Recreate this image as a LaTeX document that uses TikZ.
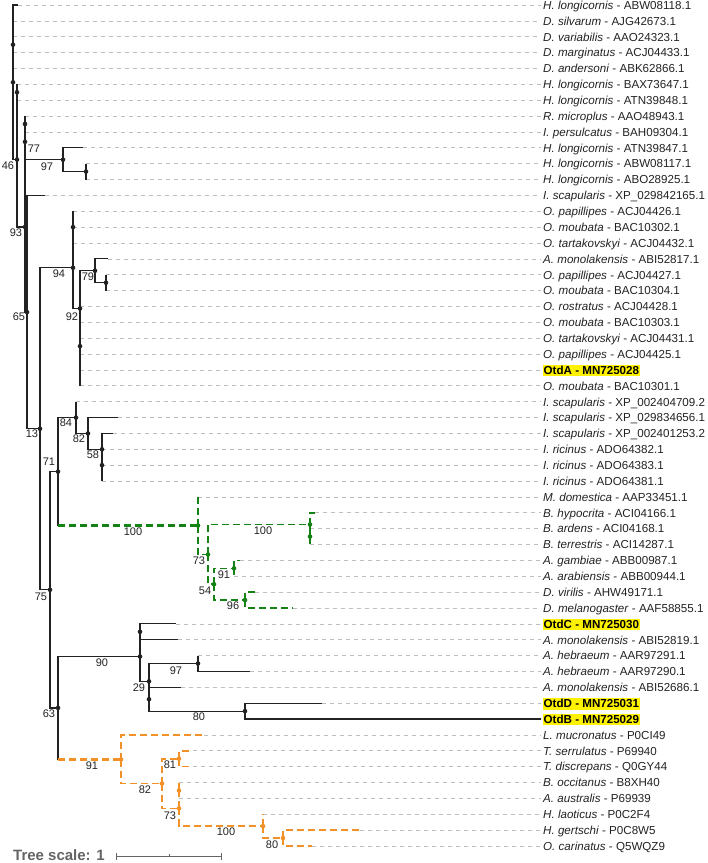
\documentclass[tikz,border=0pt]{standalone}
\usepackage{fontspec}
\setmainfont{Liberation Sans}
\definecolor{treeBlack}{RGB}{34,34,34}
\definecolor{treeGreen}{RGB}{20,130,20}
\definecolor{treeOrange}{RGB}{242,145,40}
\definecolor{guideGrey}{RGB}{190,190,190}
\definecolor{otdYellow}{RGB}{255,242,0}
\definecolor{scaleGrey}{RGB}{100,100,100}

\begin{document}
\begin{tikzpicture}
[x=1pt,y=-1pt,
  dotDecorate/.style={shape=circle,inner sep=0pt,minimum size=4.6pt,fill=#1},
  lineDecorate/.style={-,line width=1.2pt,treeBlack},
  greenDecorate/.style={-,line width=1.6pt,draw=treeGreen,dash pattern=on 7pt off 4pt},
  orangeDecorate/.style={-,line width=1.6pt,draw=treeOrange,dash pattern=on 7pt off 4pt},
  stemDecorate/.style={line width=2.2pt},
  guideDecorate/.style={-,line width=0.7pt,guideGrey,dash pattern=on 4pt off 4pt,shorten >=2pt},
  labelDecorate/.style={anchor=base west,inner sep=0pt,text=treeBlack,font=\fontsize{11.6}{13}\selectfont},
  otdDecorate/.style={anchor=base west,fill=otdYellow,inner xsep=0.5pt,inner ysep=1pt,text depth=1pt,font=\fontsize{11.6}{13}\selectfont\bfseries},
  bootDecorate/.style={inner sep=0pt,text=treeBlack,font=\fontsize{11}{12}\selectfont},
  scaleDecorate/.style={anchor=base west,inner sep=0pt,text=scaleGrey,font=\fontsize{15}{17}\selectfont\bfseries},
  barDecorate/.style={-,line width=0.9pt,scaleGrey}]
\useasboundingbox (0,0) rectangle (708,863);
%% internal nodes
\foreach \nodename/\x/\y in {
  root/13/82.3,  nA/13/44.7,  n46/17/159.6,  nB/17/92.25,
  n93/25/227,  n77/25/141.85,  nC/25/124,  n97/63/159.7,  nD/86/171.6,
  n65/27/312.1,  n13/40/428.8,  n94/73/267.8,  nE/73/227.1,
  n92/80/308.5,  n79/95/270.8,  nF/106/282.7,  nG/80/346.15,
  n75/50/589.8,  n71/58/471.65,  n84/76/417.6,  n82/88/433.45,
  n58/102/449.3,  nH/102/465.15,
  g100/198/525.5,  g73/208/554.45,  g100b/310/524.5,  gI/310/536.55,
  g54/214/584.2,  g91/234/568.3,  g96/245/600.05,
  n63/58/707.9,  n90/140/656.55,  nJ/140/631.75,  n29/149/681.35,
  n97b/198/663.5,  nK/149/699.2,  n80/245/711.1,
  o91/121/759.5,  o82/162/783.5,  o81/179/758.7,  o73/179/808.3,
  oL/179/790.45,  o100/263/826.1,  o80/283/838.05}
{
  \coordinate (\nodename) at (\x,\y);
}
%% corners where a coloured clade leaves the black tree
\coordinate (k71) at (n71 |- g100);
\coordinate (k63) at (n63 |- o91);
%% leaves and their labels
\foreach \i/\x/\species/\acc [evaluate=\i as \y using 5+15.868*(\i-1)] in {
  1/18/H. longicornis/ABW08118.1,  2/13/D. silvarum/AJG42673.1,
  3/13/D. variabilis/AAO24323.1,  4/13/D. marginatus/ACJ04433.1,
  5/13/D. andersoni/ABK62866.1,  6/17/H. longicornis/BAX73647.1,
  7/17/H. longicornis/ATN39848.1,  8/25/R. microplus/AAO48943.1,
  9/25/I. persulcatus/BAH09304.1,  10/83/H. longicornis/ATN39847.1,
  11/86/H. longicornis/ABW08117.1,  12/86/H. longicornis/ABO28925.1,
  13/45/I. scapularis/XP\_029842165.1,  14/73/O. papillipes/ACJ04426.1,
  15/73/O. moubata/BAC10302.1,  16/73/O. tartakovskyi/ACJ04432.1,
  17/108/A. monolakensis/ABI52817.1,  18/106/O. papillipes/ACJ04427.1,
  19/106/O. moubata/BAC10304.1,  20/80/O. rostratus/ACJ04428.1,
  21/80/O. moubata/BAC10303.1,  22/80/O. tartakovskyi/ACJ04431.1,
  23/80/O. papillipes/ACJ04425.1,  25/80/O. moubata/BAC10301.1,
  26/76/I. scapularis/XP\_002404709.2,  27/118/I. scapularis/XP\_029834656.1,
  28/113/I. scapularis/XP\_002401253.2,  29/102/I. ricinus/ADO64382.1,
  30/102/I. ricinus/ADO64383.1,  31/102/I. ricinus/ADO64381.1,
  32/198/M. domestica/AAP33451.1,  33/315/B. hypocrita/ACI04166.1,
  34/310/B. ardens/ACI04168.1,  35/310/B. terrestris/ACI14287.1,
  36/240/A. gambiae/ABB00987.1,  37/234/A. arabiensis/ABB00944.1,
  38/255/D. virilis/AHW49171.1,  39/293/D. melanogaster/AAF58855.1,
  41/178/A. monolakensis/ABI52819.1,  42/198/A. hebraeum/AAR97291.1,
  43/250/A. hebraeum/AAR97290.1,  44/181/A. monolakensis/ABI52686.1,
  47/204/L. mucronatus/P0CI49,  48/193/T. serrulatus/P69940,
  49/193/T. discrepans/Q0GY44,  50/179/B. occitanus/B8XH40,
  51/179/A. australis/P69939,  52/263/H. laoticus/P0C2F4,
  53/360/H. gertschi/P0C8W5,  54/312/O. carinatus/Q5WQZ9}
{
  \coordinate (l\i) at (\x,\y);
  \node (t\i) [labelDecorate] at (543,\y+4.3) {\textit{\species} - \acc};
  \draw[guideDecorate] (l\i) -- (l\i -| t\i.west);
}
%% the four Otd sequences
\foreach \i/\x/\otdname [evaluate=\i as \y using 5+15.868*(\i-1)] in {
  24/80/OtdA - MN725028,  40/176/OtdC - MN725030,
  45/322/OtdD - MN725031,  46/541/OtdB - MN725029}
{
  \coordinate (l\i) at (\x,\y);
  \node (t\i) [otdDecorate] at (543,\y+4.3) {\otdname};
  \draw[guideDecorate] (l\i) -- (l\i -| t\i.west);
}
%% branches
\foreach \startnode/\endnode in {
  root/l1, root/nA, root/n46, nA/l2, nA/l3, nA/l4, nA/l5,
  n46/nB, n46/n93, nB/l6, nB/l7, n93/n77, n93/n65,
  n77/nC, n77/n97, nC/l8, nC/l9, n97/l10, n97/nD, nD/l11, nD/l12,
  n65/l13, n65/n13, n13/n94, n13/n75, n94/nE, n94/n92,
  nE/l14, nE/l15, nE/l16, n92/n79, n92/nG, n79/l17, n79/nF,
  nF/l18, nF/l19, nG/l20, nG/l21, nG/l22, nG/l23, nG/l24, nG/l25,
  n75/n71, n75/n63, n71/n84, n71/k71, n84/l26, n84/n82, n82/l27, n82/n58,
  n58/l28, n58/nH, nH/l29, nH/l30, nH/l31,
  n63/n90, n63/k63, n90/nJ, n90/n29, nJ/l40, nJ/l41, n29/n97b, n29/nK,
  n97b/l42, n97b/l43, nK/l44, nK/n80, n80/l45, n80/l46}
{
  \draw[lineDecorate] (\startnode) -- (\startnode |- \endnode) -- (\endnode);
}
%% coloured clades
\draw[greenDecorate,stemDecorate] (k71) -- (g100);
\foreach \startnode/\endnode in {
  g100/l32, g100/g73, g73/g100b, g73/g54, g100b/l33, g100b/gI,
  gI/l34, gI/l35, g54/g91, g54/g96, g91/l36, g91/l37, g96/l38, g96/l39}
{
  \draw[greenDecorate] (\startnode) -- (\startnode |- \endnode) -- (\endnode);
}
\draw[orangeDecorate,stemDecorate] (k63) -- (o91);
\foreach \startnode/\endnode in {
  o91/l47, o91/o82, o82/o81, o82/o73, o81/l48, o81/l49,
  o73/oL, o73/o100, oL/l50, oL/l51, o100/l52, o100/o80, o80/l53, o80/l54}
{
  \draw[orangeDecorate] (\startnode) -- (\startnode |- \endnode) -- (\endnode);
}
%% dots on the nodes
\foreach \nodename/\clr in {
  root/treeBlack, nA/treeBlack, n46/treeBlack, nB/treeBlack, n93/treeBlack,
  n77/treeBlack, nC/treeBlack, n97/treeBlack, nD/treeBlack, n65/treeBlack,
  n13/treeBlack, n94/treeBlack, nE/treeBlack, n92/treeBlack, n79/treeBlack,
  nF/treeBlack, nG/treeBlack, n75/treeBlack, n71/treeBlack, n84/treeBlack,
  n82/treeBlack, n58/treeBlack, nH/treeBlack, n63/treeBlack, n90/treeBlack,
  nJ/treeBlack, n29/treeBlack, n97b/treeBlack, nK/treeBlack, n80/treeBlack,
  g100/treeGreen, g73/treeGreen, g100b/treeGreen, gI/treeGreen,
  g54/treeGreen, g91/treeGreen, g96/treeGreen,
  o91/treeOrange, o82/treeOrange, o81/treeOrange, o73/treeOrange,
  oL/treeOrange, o100/treeOrange, o80/treeOrange}
{
  \node (d\nodename) [dotDecorate=\clr] at (\nodename) {};
}
%% support values
\foreach \nodename/\x/\y/\val in {
  n46/8/166/46, n77/34/149/77, n97/47/167/97, n93/16/233/93,
  n65/19/317/65, n94/59/274/94, n79/88/277/79, n92/72/317/92,
  n84/66/423/84, n82/79/439/82, n58/93/455/58, n13/32/434/13,
  n71/49/462/71, n75/41/597/75,
  g100/133/532/100, g100b/263/531/100, g73/199/561/73,
  g91/224/575/91, g54/205/591/54, g96/233/606/96,
  n90/102/663/90, n97b/176/671/97, n29/139/688/29, n80/199/717/80,
  n63/49/714/63,
  o91/92/766/91, o81/170/765/81, o82/145/790/82, o73/170/816/73,
  o100/226/832/100, o80/272/845/80}
{
  \node (b\nodename) [bootDecorate] at (\x,\y) {\val};
}
%% tree scale
\node (scaleText) [scaleDecorate] at (13,860.5) {Tree scale: 1};
\coordinate (barL) at (116,856.5);
\coordinate (barM) at (169,856.5);
\coordinate (barR) at (221,856.5);
\draw[barDecorate] (barL) -- (barR);
\draw[barDecorate] ([yshift=3.5pt]barL) -- ([yshift=-3.5pt]barL);
\draw[barDecorate] ([yshift=3.5pt]barR) -- ([yshift=-3.5pt]barR);
\draw[barDecorate] ([yshift=3pt]barM) -- (barM);
\end{tikzpicture}
\end{document}
